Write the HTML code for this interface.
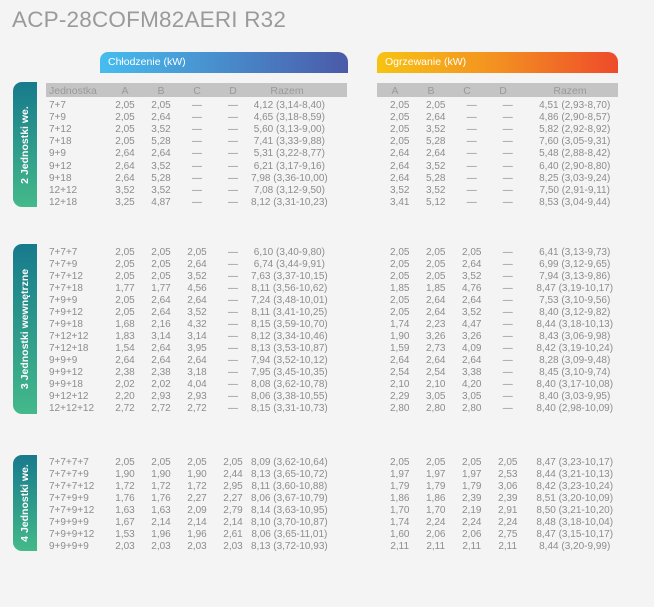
<!DOCTYPE html>
<html><head><meta charset="utf-8"><style>
body{margin:0;background:#f4f4f4;width:654px;height:607px;position:relative;overflow:hidden;font-family:"Liberation Sans",sans-serif;color:#8d8d8d}
.t{position:absolute;left:12px;top:7px;font-size:22.5px;color:#9a9a9a;letter-spacing:0.2px}
.bar{position:absolute;height:21px;color:#fff;font-size:10.5px;line-height:21px;padding-left:8px;box-sizing:border-box;border-radius:8px 10px 0 0}
.gh{position:absolute;top:83px;height:14px;background:#c4c4c4}
.tab{position:absolute;left:13px;width:24px;border-radius:9px 0 0 9px;background:linear-gradient(#177a8c,#44b98a)}
.tab span{position:absolute;left:50%;top:50%;transform:translate(-50%,-50%) rotate(-90deg);white-space:nowrap;color:#fff;font-weight:bold;font-size:10.5px}
table{position:absolute;left:49px;border-collapse:collapse;font-size:10px;table-layout:fixed}
td{padding:0;text-align:center;white-space:nowrap;overflow:visible}
td:first-child{text-align:left}
</style></head><body>
<div class="t">ACP-28COFM82AERI R32</div>
<div class="bar" style="left:100px;top:52px;width:248px;background:linear-gradient(90deg,#46bdef,#4a5aa8)">Chłodzenie (kW)</div>
<div class="bar" style="left:377px;top:52px;width:241px;background:linear-gradient(90deg,#f7c312,#f39021 50%,#ee4a2a)">Ogrzewanie (kW)</div>
<div class="gh" style="left:46px;width:301px"></div>
<div class="gh" style="left:377px;width:241px"></div>
<div class="tab" style="top:82px;height:125px"><span>2 Jednostki we.</span></div>
<div class="tab" style="top:244px;height:170px"><span>3 Jednostki wewnętrzne</span></div>
<div class="tab" style="top:455px;height:96px"><span>4 Jednostki we.</span></div>

<table style="top:84px;color:#999;font-size:10.5px"><colgroup><col style="width:58px"><col style="width:36px"><col style="width:36px"><col style="width:36px"><col style="width:36px"><col style="width:72px"><col style="width:54px"><col style="width:36px"><col style="width:36px"><col style="width:36px"><col style="width:36px"><col style="width:98px"></colgroup>
<tr style="height:13px"><td>Jednostka</td><td>A</td><td>B</td><td>C</td><td>D</td><td>Razem</td><td></td><td>A</td><td>B</td><td>C</td><td>D</td><td>Razem</td></tr></table>

<table style="top:99px"><colgroup><col style="width:58px"><col style="width:36px"><col style="width:36px"><col style="width:36px"><col style="width:36px"><col style="width:72px"><col style="width:54px"><col style="width:36px"><col style="width:36px"><col style="width:36px"><col style="width:36px"><col style="width:98px"></colgroup>
<tr style="height:12.2px"><td>7+7</td><td>2,05</td><td>2,05</td><td>—</td><td>—</td><td>4,12 (3,14-8,40)</td><td></td><td>2,05</td><td>2,05</td><td>—</td><td>—</td><td>4,51 (2,93-8,70)</td></tr>
<tr style="height:12.2px"><td>7+9</td><td>2,05</td><td>2,64</td><td>—</td><td>—</td><td>4,65 (3,18-8,59)</td><td></td><td>2,05</td><td>2,64</td><td>—</td><td>—</td><td>4,86 (2,90-8,57)</td></tr>
<tr style="height:12.2px"><td>7+12</td><td>2,05</td><td>3,52</td><td>—</td><td>—</td><td>5,60 (3,13-9,00)</td><td></td><td>2,05</td><td>3,52</td><td>—</td><td>—</td><td>5,82 (2,92-8,92)</td></tr>
<tr style="height:12.2px"><td>7+18</td><td>2,05</td><td>5,28</td><td>—</td><td>—</td><td>7,41 (3,33-9,88)</td><td></td><td>2,05</td><td>5,28</td><td>—</td><td>—</td><td>7,60 (3,05-9,31)</td></tr>
<tr style="height:12.2px"><td>9+9</td><td>2,64</td><td>2,64</td><td>—</td><td>—</td><td>5,31 (3,22-8,77)</td><td></td><td>2,64</td><td>2,64</td><td>—</td><td>—</td><td>5,48 (2,88-8,42)</td></tr>
<tr style="height:12.2px"><td>9+12</td><td>2,64</td><td>3,52</td><td>—</td><td>—</td><td>6,21 (3,17-9,16)</td><td></td><td>2,64</td><td>3,52</td><td>—</td><td>—</td><td>6,40 (2,90-8,80)</td></tr>
<tr style="height:12.2px"><td>9+18</td><td>2,64</td><td>5,28</td><td>—</td><td>—</td><td>7,98 (3,36-10,00)</td><td></td><td>2,64</td><td>5,28</td><td>—</td><td>—</td><td>8,25 (3,03-9,24)</td></tr>
<tr style="height:12.2px"><td>12+12</td><td>3,52</td><td>3,52</td><td>—</td><td>—</td><td>7,08 (3,12-9,50)</td><td></td><td>3,52</td><td>3,52</td><td>—</td><td>—</td><td>7,50 (2,91-9,11)</td></tr>
<tr style="height:12.2px"><td>12+18</td><td>3,25</td><td>4,87</td><td>—</td><td>—</td><td>8,12 (3,31-10,23)</td><td></td><td>3,41</td><td>5,12</td><td>—</td><td>—</td><td>8,53 (3,04-9,44)</td></tr>
</table>

<table style="top:246px"><colgroup><col style="width:58px"><col style="width:36px"><col style="width:36px"><col style="width:36px"><col style="width:36px"><col style="width:72px"><col style="width:54px"><col style="width:36px"><col style="width:36px"><col style="width:36px"><col style="width:36px"><col style="width:98px"></colgroup>
<tr style="height:12.05px"><td>7+7+7</td><td>2,05</td><td>2,05</td><td>2,05</td><td>—</td><td>6,10 (3,40-9,80)</td><td></td><td>2,05</td><td>2,05</td><td>2,05</td><td>—</td><td>6,41 (3,13-9,73)</td></tr>
<tr style="height:12.05px"><td>7+7+9</td><td>2,05</td><td>2,05</td><td>2,64</td><td>—</td><td>6,74 (3,44-9,91)</td><td></td><td>2,05</td><td>2,05</td><td>2,64</td><td>—</td><td>6,99 (3,12-9,65)</td></tr>
<tr style="height:12.05px"><td>7+7+12</td><td>2,05</td><td>2,05</td><td>3,52</td><td>—</td><td>7,63 (3,37-10,15)</td><td></td><td>2,05</td><td>2,05</td><td>3,52</td><td>—</td><td>7,94 (3,13-9,86)</td></tr>
<tr style="height:12.05px"><td>7+7+18</td><td>1,77</td><td>1,77</td><td>4,56</td><td>—</td><td>8,11 (3,56-10,62)</td><td></td><td>1,85</td><td>1,85</td><td>4,76</td><td>—</td><td>8,47 (3,19-10,17)</td></tr>
<tr style="height:12.05px"><td>7+9+9</td><td>2,05</td><td>2,64</td><td>2,64</td><td>—</td><td>7,24 (3,48-10,01)</td><td></td><td>2,05</td><td>2,64</td><td>2,64</td><td>—</td><td>7,53 (3,10-9,56)</td></tr>
<tr style="height:12.05px"><td>7+9+12</td><td>2,05</td><td>2,64</td><td>3,52</td><td>—</td><td>8,11 (3,41-10,25)</td><td></td><td>2,05</td><td>2,64</td><td>3,52</td><td>—</td><td>8,40 (3,12-9,82)</td></tr>
<tr style="height:12.05px"><td>7+9+18</td><td>1,68</td><td>2,16</td><td>4,32</td><td>—</td><td>8,15 (3,59-10,70)</td><td></td><td>1,74</td><td>2,23</td><td>4,47</td><td>—</td><td>8,44 (3,18-10,13)</td></tr>
<tr style="height:12.05px"><td>7+12+12</td><td>1,83</td><td>3,14</td><td>3,14</td><td>—</td><td>8,12 (3,34-10,46)</td><td></td><td>1,90</td><td>3,26</td><td>3,26</td><td>—</td><td>8,43 (3,06-9,98)</td></tr>
<tr style="height:12.05px"><td>7+12+18</td><td>1,54</td><td>2,64</td><td>3,95</td><td>—</td><td>8,13 (3,53-10,87)</td><td></td><td>1,59</td><td>2,73</td><td>4,09</td><td>—</td><td>8,42 (3,19-10,24)</td></tr>
<tr style="height:12.05px"><td>9+9+9</td><td>2,64</td><td>2,64</td><td>2,64</td><td>—</td><td>7,94 (3,52-10,12)</td><td></td><td>2,64</td><td>2,64</td><td>2,64</td><td>—</td><td>8,28 (3,09-9,48)</td></tr>
<tr style="height:12.05px"><td>9+9+12</td><td>2,38</td><td>2,38</td><td>3,18</td><td>—</td><td>7,95 (3,45-10,35)</td><td></td><td>2,54</td><td>2,54</td><td>3,38</td><td>—</td><td>8,45 (3,10-9,74)</td></tr>
<tr style="height:12.05px"><td>9+9+18</td><td>2,02</td><td>2,02</td><td>4,04</td><td>—</td><td>8,08 (3,62-10,78)</td><td></td><td>2,10</td><td>2,10</td><td>4,20</td><td>—</td><td>8,40 (3,17-10,08)</td></tr>
<tr style="height:12.05px"><td>9+12+12</td><td>2,20</td><td>2,93</td><td>2,93</td><td>—</td><td>8,06 (3,38-10,55)</td><td></td><td>2,29</td><td>3,05</td><td>3,05</td><td>—</td><td>8,40 (3,03-9,95)</td></tr>
<tr style="height:12.05px"><td>12+12+12</td><td>2,72</td><td>2,72</td><td>2,72</td><td>—</td><td>8,15 (3,31-10,73)</td><td></td><td>2,80</td><td>2,80</td><td>2,80</td><td>—</td><td>8,40 (2,98-10,09)</td></tr>
</table>

<table style="top:456px"><colgroup><col style="width:58px"><col style="width:36px"><col style="width:36px"><col style="width:36px"><col style="width:36px"><col style="width:72px"><col style="width:54px"><col style="width:36px"><col style="width:36px"><col style="width:36px"><col style="width:36px"><col style="width:98px"></colgroup>
<tr style="height:12.1px"><td>7+7+7+7</td><td>2,05</td><td>2,05</td><td>2,05</td><td>2,05</td><td>8,09 (3,62-10,64)</td><td></td><td>2,05</td><td>2,05</td><td>2,05</td><td>2,05</td><td>8,47 (3,23-10,17)</td></tr>
<tr style="height:12.1px"><td>7+7+7+9</td><td>1,90</td><td>1,90</td><td>1,90</td><td>2,44</td><td>8,13 (3,65-10,72)</td><td></td><td>1,97</td><td>1,97</td><td>1,97</td><td>2,53</td><td>8,44 (3,21-10,13)</td></tr>
<tr style="height:12.1px"><td>7+7+7+12</td><td>1,72</td><td>1,72</td><td>1,72</td><td>2,95</td><td>8,11 (3,60-10,88)</td><td></td><td>1,79</td><td>1,79</td><td>1,79</td><td>3,06</td><td>8,42 (3,23-10,24)</td></tr>
<tr style="height:12.1px"><td>7+7+9+9</td><td>1,76</td><td>1,76</td><td>2,27</td><td>2,27</td><td>8,06 (3,67-10,79)</td><td></td><td>1,86</td><td>1,86</td><td>2,39</td><td>2,39</td><td>8,51 (3,20-10,09)</td></tr>
<tr style="height:12.1px"><td>7+7+9+12</td><td>1,63</td><td>1,63</td><td>2,09</td><td>2,79</td><td>8,14 (3,63-10,95)</td><td></td><td>1,70</td><td>1,70</td><td>2,19</td><td>2,91</td><td>8,50 (3,21-10,20)</td></tr>
<tr style="height:12.1px"><td>7+9+9+9</td><td>1,67</td><td>2,14</td><td>2,14</td><td>2,14</td><td>8,10 (3,70-10,87)</td><td></td><td>1,74</td><td>2,24</td><td>2,24</td><td>2,24</td><td>8,48 (3,18-10,04)</td></tr>
<tr style="height:12.1px"><td>7+9+9+12</td><td>1,53</td><td>1,96</td><td>1,96</td><td>2,61</td><td>8,06 (3,65-11,01)</td><td></td><td>1,60</td><td>2,06</td><td>2,06</td><td>2,75</td><td>8,47 (3,15-10,17)</td></tr>
<tr style="height:12.1px"><td>9+9+9+9</td><td>2,03</td><td>2,03</td><td>2,03</td><td>2,03</td><td>8,13 (3,72-10,93)</td><td></td><td>2,11</td><td>2,11</td><td>2,11</td><td>2,11</td><td>8,44 (3,20-9,99)</td></tr>
</table>
</body></html>
